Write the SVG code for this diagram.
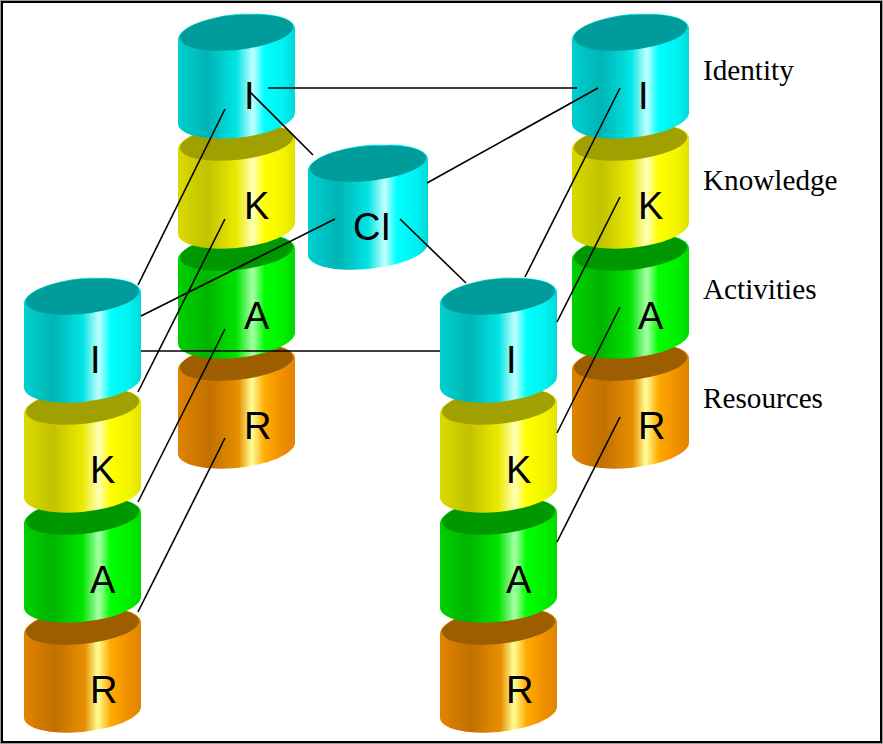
<svg xmlns="http://www.w3.org/2000/svg" xmlns:xlink="http://www.w3.org/1999/xlink" width="883" height="744" viewBox="0 0 883 744">
<style>
.lbl{font-family:"Liberation Sans",Arial,sans-serif;font-size:38px;fill:#000}
.side{font-family:"Liberation Serif","Times New Roman",serif;font-size:29.2px;fill:#000}
.conn line{stroke:#000;stroke-width:1.6;fill:none}
</style>
<defs>
<linearGradient id="gC" x1="0" y1="0" x2="1" y2="0">
<stop offset="0" stop-color="#00d0d0"/><stop offset="0.25" stop-color="#00b4b4"/><stop offset="0.5" stop-color="#00e4e4"/><stop offset="0.64" stop-color="#c4ffff"/><stop offset="0.74" stop-color="#00ffff"/><stop offset="0.9" stop-color="#00f2f2"/><stop offset="1" stop-color="#00d8d8"/>
</linearGradient>
<linearGradient id="gK" x1="0" y1="0" x2="1" y2="0">
<stop offset="0" stop-color="#dada00"/><stop offset="0.25" stop-color="#c2c200"/><stop offset="0.5" stop-color="#eaea00"/><stop offset="0.64" stop-color="#ffffb8"/><stop offset="0.74" stop-color="#ffff00"/><stop offset="0.9" stop-color="#f4f400"/><stop offset="1" stop-color="#e0e000"/>
</linearGradient>
<linearGradient id="gA" x1="0" y1="0" x2="1" y2="0">
<stop offset="0" stop-color="#00d000"/><stop offset="0.25" stop-color="#00b400"/><stop offset="0.5" stop-color="#00e400"/><stop offset="0.64" stop-color="#a8ffa8"/><stop offset="0.74" stop-color="#00ff00"/><stop offset="0.9" stop-color="#00f000"/><stop offset="1" stop-color="#00d800"/>
</linearGradient>
<linearGradient id="gR" x1="0" y1="0" x2="1" y2="0">
<stop offset="0" stop-color="#e08400"/><stop offset="0.27" stop-color="#c27000"/><stop offset="0.52" stop-color="#e89000"/><stop offset="0.63" stop-color="#ffff98"/><stop offset="0.74" stop-color="#ffaa00"/><stop offset="0.9" stop-color="#ee8e00"/><stop offset="1" stop-color="#e08400"/>
</linearGradient>
<path id="body" d="M-58.5,0 V84 A58.5,20 0 0 0 58.5,84 V0 Z"/>
<ellipse id="rim" cx="0" cy="0" rx="58.5" ry="20"/>
<ellipse id="face" cx="0" cy="-1.5" rx="56.5" ry="17.5"/>
</defs>
<rect x="0.5" y="0.5" width="882" height="743" fill="#fff" stroke="#999" stroke-width="1"/>
<rect x="2" y="2" width="879" height="740" fill="none" stroke="#000" stroke-width="2"/>

<!-- Top-left stack -->
<g id="tl-r"><g transform="translate(236.5,364) skewY(-5.4)"><use href="#body" fill="url(#gR)"/><use href="#rim" fill="url(#gR)"/><use href="#face" fill="#9c5e00"/></g><text class="lbl" x="244" y="439">R</text></g>
<g id="tl-a"><g transform="translate(236.5,254) skewY(-5.4)"><use href="#body" fill="url(#gA)"/><use href="#rim" fill="url(#gA)"/><use href="#face" fill="#009800"/></g><text class="lbl" x="244" y="329">A</text></g>
<g id="tl-k"><g transform="translate(236.5,144) skewY(-5.4)"><use href="#body" fill="url(#gK)"/><use href="#rim" fill="url(#gK)"/><use href="#face" fill="#a0a000"/></g><text class="lbl" x="244" y="219">K</text></g>
<g id="tl-i"><g transform="translate(236.5,34) skewY(-5.4)"><use href="#body" fill="url(#gC)"/><use href="#rim" fill="url(#gC)"/><use href="#face" fill="#009c9c"/></g><text class="lbl" x="244" y="109">I</text></g>

<!-- Top-right stack -->
<g id="tr-r"><g transform="translate(630.5,364) skewY(-5.4)"><use href="#body" fill="url(#gR)"/><use href="#rim" fill="url(#gR)"/><use href="#face" fill="#9c5e00"/></g><text class="lbl" x="638" y="439">R</text></g>
<g id="tr-a"><g transform="translate(630.5,254) skewY(-5.4)"><use href="#body" fill="url(#gA)"/><use href="#rim" fill="url(#gA)"/><use href="#face" fill="#009800"/></g><text class="lbl" x="638" y="329">A</text></g>
<g id="tr-k"><g transform="translate(630.5,144) skewY(-5.4)"><use href="#body" fill="url(#gK)"/><use href="#rim" fill="url(#gK)"/><use href="#face" fill="#a0a000"/></g><text class="lbl" x="638" y="219">K</text></g>
<g id="tr-i"><g transform="translate(630.5,34) skewY(-5.4)"><use href="#body" fill="url(#gC)"/><use href="#rim" fill="url(#gC)"/><use href="#face" fill="#009c9c"/></g><text class="lbl" x="638" y="109">I</text></g>

<!-- Bottom-left stack -->
<g id="bl-r"><g transform="translate(82.5,628) skewY(-5.4)"><use href="#body" fill="url(#gR)"/><use href="#rim" fill="url(#gR)"/><use href="#face" fill="#9c5e00"/></g><text class="lbl" x="90" y="703">R</text></g>
<g id="bl-a"><g transform="translate(82.5,518) skewY(-5.4)"><use href="#body" fill="url(#gA)"/><use href="#rim" fill="url(#gA)"/><use href="#face" fill="#009800"/></g><text class="lbl" x="90" y="593">A</text></g>
<g id="bl-k"><g transform="translate(82.5,408) skewY(-5.4)"><use href="#body" fill="url(#gK)"/><use href="#rim" fill="url(#gK)"/><use href="#face" fill="#a0a000"/></g><text class="lbl" x="90" y="483">K</text></g>
<g id="bl-i"><g transform="translate(82.5,298) skewY(-5.4)"><use href="#body" fill="url(#gC)"/><use href="#rim" fill="url(#gC)"/><use href="#face" fill="#009c9c"/></g><text class="lbl" x="90" y="373">I</text></g>

<!-- Bottom-right stack -->
<g id="br-r"><g transform="translate(498.5,628) skewY(-5.4)"><use href="#body" fill="url(#gR)"/><use href="#rim" fill="url(#gR)"/><use href="#face" fill="#9c5e00"/></g><text class="lbl" x="506" y="703">R</text></g>
<g id="br-a"><g transform="translate(498.5,518) skewY(-5.4)"><use href="#body" fill="url(#gA)"/><use href="#rim" fill="url(#gA)"/><use href="#face" fill="#009800"/></g><text class="lbl" x="506" y="593">A</text></g>
<g id="br-k"><g transform="translate(498.5,408) skewY(-5.4)"><use href="#body" fill="url(#gK)"/><use href="#rim" fill="url(#gK)"/><use href="#face" fill="#a0a000"/></g><text class="lbl" x="506" y="483">K</text></g>
<g id="br-i"><g transform="translate(498.5,298) skewY(-5.4)"><use href="#body" fill="url(#gC)"/><use href="#rim" fill="url(#gC)"/><use href="#face" fill="#009c9c"/></g><text class="lbl" x="506" y="373">I</text></g>

<!-- CI -->
<g id="ci"><g transform="translate(368,165) skewY(-5.4)"><use href="#body" fill="url(#gC)" transform="scale(1.026,1)"/><use href="#rim" fill="url(#gC)" transform="scale(1.026,1)"/><use href="#face" fill="#009c9c" transform="scale(1.026,1)"/></g><text class="lbl" x="353" y="240">CI</text></g>

<!-- Connectors -->
<g id="connectors" class="conn">
<line x1="268" y1="88" x2="577" y2="88"/>
<line x1="598" y1="88" x2="427" y2="183"/>
<line x1="620" y1="88" x2="525" y2="277"/>
<line x1="620" y1="197" x2="557" y2="322"/>
<line x1="620" y1="307" x2="557" y2="433"/>
<line x1="620" y1="417" x2="557" y2="542"/>
<line x1="249" y1="91" x2="313" y2="155"/>
<line x1="400" y1="219" x2="466" y2="283"/>
<line x1="225" y1="109" x2="138" y2="285"/>
<line x1="225" y1="219" x2="138" y2="392"/>
<line x1="335" y1="219" x2="141" y2="316"/>
<line x1="225" y1="329" x2="138" y2="502"/>
<line x1="225" y1="438" x2="138" y2="612"/>
<line x1="141" y1="351" x2="440" y2="351"/>
</g>

<!-- Side labels -->
<g id="legend">
<text class="side" x="703" y="80">Identity</text>
<text class="side" x="703" y="190">Knowledge</text>
<text class="side" x="703" y="299">Activities</text>
<text class="side" x="703" y="408">Resources</text>
</g>
</svg>
